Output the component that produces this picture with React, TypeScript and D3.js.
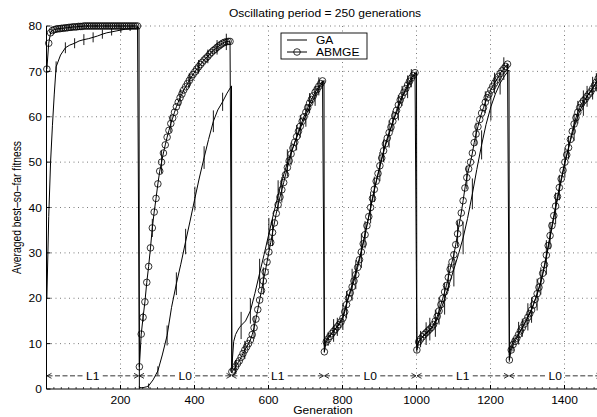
import React from 'react';
import * as d3 from 'd3';

const W = 597;
const H = 417;
const PERIOD = 250;
const TITLE = 'Oscillating period = 250 generations';
const X_LABEL = 'Generation';
const Y_LABEL = 'Averaged best\u2013so\u2013far fitness';
const SERIES = ['GA', 'ABMGE'];
const X_TICKS = [200, 400, 600, 800, 1000, 1200, 1400];
const Y_TICKS = [0, 10, 20, 30, 40, 50, 60, 70, 80];
const LANDSCAPES = ['L1', 'L0', 'L1', 'L0', 'L1', 'L0'];

// generation offsets within a period
const GA_T = [1, 6, 11, 16, 21, 26, 38, 51, 63, 76, 88, 101, 113, 126, 138, 151, 163, 176, 188, 201, 213, 226, 238, 250];
const ABMGE_T = [1, 6, 11, 16, 21, 26, 31, 36, 41, 46, 51, 56, 61, 66, 71, 76, 81, 86, 91, 96, 101, 106, 111, 116, 121, 126, 131, 136, 141, 146, 151, 156, 161, 166, 171, 176, 181, 186, 191, 196, 201, 206, 211, 216, 221, 226, 231, 236, 241, 246];
const GA_ERR_T = [1, 26, 51, 76, 101, 126, 151, 176, 201, 226];
const ABMGE_ERR_T = [11, 36, 61, 86, 111, 136, 161, 186, 211, 236];

const GA_P1 = [20, 38, 50, 58, 65, 71, 73.6, 75.2, 75.8, 76.2, 76.7, 77.0, 77.2, 77.5, 77.8, 78.2, 78.5, 78.7, 78.9, 79.1, 79.3, 79.4, 79.5, 79.6];
const GA_P2 = [0.3, 0.3, 0.3, 0.4, 0.5, 0.7, 2.0, 4.0, 7.5, 11.8, 18.0, 23.2, 27.5, 32.5, 37.0, 42.0, 46.5, 51.0, 55.0, 59.0, 61.5, 63.3, 65.2, 66.8];
const GA_P3 = [5.0, 10.5, 12.0, 12.8, 13.5, 14.0, 15.0, 17.2, 21.0, 25.5, 29.6, 34.2, 38.4, 42.7, 46.4, 49.8, 52.6, 55.4, 57.8, 60.3, 62.5, 64.6, 66.5, 68.0];
const GA_P4 = [9.5, 10.8, 11.4, 11.9, 12.4, 12.9, 14.0, 16.0, 19.5, 23.0, 26.5, 30.5, 35.0, 40.0, 44.5, 49.0, 52.8, 56.2, 59.2, 62.0, 64.6, 66.6, 68.3, 69.8];
const GA_P5 = [9.5, 10.6, 11.0, 11.4, 11.8, 12.2, 13.0, 14.5, 16.8, 19.9, 23.0, 26.4, 29.6, 33.3, 37.6, 43.0, 48.4, 53.8, 58.3, 62.2, 65.0, 67.4, 69.0, 70.3];
const GA_P6 = [7.5, 9.5, 10.4, 11.0, 11.6, 12.3, 13.8, 15.9, 18.0, 20.8, 24.0, 29.0, 34.2, 39.8, 44.6, 49.8, 53.8, 57.7, 60.6, 63.0, 64.8, 66.3, 67.8, 69.3];

const ABMGE_P1 = [70.5, 76.2, 78.5, 79.0, 79.2, 79.3, 79.4, 79.4, 79.5, 79.5, 79.6, 79.6, 79.7, 79.7, 79.8, 79.8, 79.8, 79.9, 79.9, 79.9, 80, 80, 80, 80, 80, 80, 80, 80, 80, 80, 80, 80, 80, 80, 80, 80, 80, 80, 80, 80, 80, 80, 80, 80, 80, 80, 80, 80, 80, 80];
const ABMGE_P2 = [4.9, 12.1, 15.8, 19.2, 23.5, 27.0, 31.1, 35.5, 39.0, 42.0, 45.2, 48.0, 50.0, 52.0, 53.8, 55.5, 57.0, 58.5, 59.7, 61.0, 62.2, 63.2, 64.2, 65.0, 65.9, 66.6, 67.3, 68.0, 68.7, 69.3, 69.9, 70.5, 71.0, 71.5, 72.0, 72.5, 72.9, 73.3, 73.8, 74.2, 74.6, 74.9, 75.3, 75.6, 75.9, 76.2, 76.4, 76.5, 76.6, 76.6];
const ABMGE_P3 = [3.8, 4.2, 4.9, 5.6, 6.2, 7.0, 7.8, 8.6, 9.3, 10.0, 10.8, 12.0, 13.5, 15.4, 17.5, 19.6, 21.7, 23.8, 25.8, 28.0, 30.2, 32.3, 34.5, 36.6, 38.7, 40.6, 42.3, 43.9, 45.5, 47.2, 48.8, 50.3, 51.8, 53.1, 54.4, 55.6, 56.8, 57.9, 59.0, 60.0, 61.0, 62.0, 63.0, 63.8, 64.6, 65.4, 66.0, 66.7, 67.3, 67.9];
const ABMGE_P4 = [8.2, 10.4, 11.0, 11.6, 12.2, 12.7, 13.2, 13.7, 14.2, 14.8, 15.6, 17.0, 18.6, 20.0, 21.2, 22.5, 23.8, 25.2, 26.8, 28.5, 30.2, 32.0, 34.0, 36.0, 38.0, 40.0, 42.0, 44.0, 45.8, 47.5, 49.2, 50.9, 52.5, 54.0, 55.3, 56.5, 57.7, 59.0, 60.2, 61.4, 62.6, 63.7, 64.6, 65.4, 66.2, 67.0, 67.8, 68.5, 69.1, 69.7];
const ABMGE_P5 = [8.6, 10.4, 11.0, 11.5, 12.0, 12.4, 12.8, 13.2, 13.6, 14.2, 15.0, 16.0, 17.2, 18.6, 20.0, 21.4, 22.8, 24.6, 26.4, 28.0, 29.6, 31.8, 34.2, 36.6, 38.8, 41.5, 44.3, 46.6, 48.5, 50.0, 52.0, 54.3, 56.2, 57.8, 59.4, 60.8, 62.0, 63.2, 64.2, 65.0, 65.9, 66.7, 67.4, 68.1, 68.8, 69.5, 70.1, 70.6, 71.1, 71.6];
const ABMGE_P6 = [6.4, 8.6, 9.8, 10.5, 11.2, 12.0, 12.8, 13.5, 14.3, 15.0, 15.8, 16.6, 17.4, 18.5, 19.8, 21.0, 22.4, 23.8, 25.5, 27.4, 29.5, 31.6, 33.8, 36.0, 38.2, 40.3, 42.4, 44.4, 46.3, 48.2, 50.0, 51.6, 53.2, 55.0, 56.8, 58.4, 59.8, 61.0, 62.0, 62.9, 63.5, 63.9, 64.5, 65.0, 65.5, 66.2, 66.9, 67.6, 68.4, 69.2];

const GA_ERR_P1 = [0, 1.2, 1.2, 1.1, 1.2, 1.1, 1.0, 0.8, 0.6, 0.5];
const GA_ERR_P2 = [0.3, 0.5, 1.0, 2.2, 2.5, 2.8, 2.6, 2.5, 2.4, 2.0];
const GA_ERR_P3 = [1.5, 3.0, 2.8, 3.2, 3.5, 3.3, 3.0, 2.8, 2.5, 2.2];
const GA_ERR_P4 = [1.5, 2.5, 3.0, 3.5, 3.8, 3.5, 3.2, 3.0, 2.8, 2.5];
const GA_ERR_P5 = [1.5, 2.5, 3.0, 3.5, 3.8, 3.6, 3.4, 3.2, 3.0, 2.5];
const GA_ERR_P6 = [1.5, 2.5, 3.0, 3.5, 3.8, 3.5, 3.2, 3.0, 2.8, 2.5];

const ABMGE_ERR_P1 = [0.3, 0.2, 0.2, 0.2, 0.2, 0.1, 0.1, 0.1, 0.1, 0.1];
const ABMGE_ERR_P2 = [1.0, 2.0, 2.5, 2.0, 1.8, 1.6, 1.5, 1.5, 1.6, 1.8];
const ABMGE_ERR_P3 = [1.5, 2.0, 2.5, 3.0, 3.0, 2.8, 2.5, 2.5, 2.2, 2.0];
const ABMGE_ERR_P4 = [1.5, 2.0, 3.0, 3.2, 3.0, 2.8, 2.5, 2.3, 2.2, 2.0];
const ABMGE_ERR_P5 = [1.8, 2.5, 3.0, 3.0, 2.8, 2.6, 2.5, 2.4, 2.3, 2.5];
const ABMGE_ERR_P6 = [1.5, 2.0, 2.8, 3.0, 3.0, 2.8, 2.6, 2.5, 2.3, 2.0];

const GA_PERIODS = [GA_P1, GA_P2, GA_P3, GA_P4, GA_P5, GA_P6];
const ABMGE_PERIODS = [ABMGE_P1, ABMGE_P2, ABMGE_P3, ABMGE_P4, ABMGE_P5, ABMGE_P6];
const GA_ERRS = [GA_ERR_P1, GA_ERR_P2, GA_ERR_P3, GA_ERR_P4, GA_ERR_P5, GA_ERR_P6];
const ABMGE_ERRS = [ABMGE_ERR_P1, ABMGE_ERR_P2, ABMGE_ERR_P3, ABMGE_ERR_P4, ABMGE_ERR_P5, ABMGE_ERR_P6];

type Pt = { g: number; v: number };

function buildSeries(periods: number[][], ts: number[]): Pt[] {
  const out: Pt[] = [];
  periods.forEach((vals, k) => {
    vals.forEach((v, i) => out.push({ g: k * PERIOD + ts[i], v }));
  });
  return out;
}

function buildErrors(periods: number[][], errs: number[][], ts: number[], errTs: number[]) {
  const out: { g: number; v: number; e: number }[] = [];
  periods.forEach((vals, k) => {
    errTs.forEach((t, j) => {
      const idx = ts.indexOf(t);
      if (idx >= 0) out.push({ g: k * PERIOD + t, v: vals[idx], e: errs[k][j] });
    });
  });
  return out;
}

const SX = 1.17;
const FONT = '"Liberation Sans", Arial, Helvetica, sans-serif';

function STxt(props: { x: number; y: number; anchor?: string; size?: number; baseline?: string; children: any }) {
  const { x, y, anchor = 'middle', size = 10.3, baseline, children } = props;
  return (
    <text
      transform={`translate(${x},${y}) scale(${SX},1)`}
      textAnchor={anchor}
      fontSize={size}
      dominantBaseline={baseline as any}
      fill="#000"
    >
      {children}
    </text>
  );
}

export default function App() {
  const x = d3.scaleLinear().domain([0, 1500]).range([46.5, 601.5]);
  const y = d3.scaleLinear().domain([0, 80]).range([389, 26]);
  const left = x(0);
  const bottom = y(0);
  const top = y(80);

  const ga = buildSeries(GA_PERIODS, GA_T);
  const ab = buildSeries(ABMGE_PERIODS, ABMGE_T);
  const gaErr = buildErrors(GA_PERIODS, GA_ERRS, GA_T, GA_ERR_T);
  const abErr = buildErrors(ABMGE_PERIODS, ABMGE_ERRS, ABMGE_T, ABMGE_ERR_T);

  const line = d3.line<Pt>().x((d) => x(d.g)).y((d) => y(d.v));

  const minorTicks = d3.range(20, 1500, 20).filter((g) => g % 200 !== 0);
  const annY = y(2.9);

  return (
    <svg width={W} height={H} style={{ position: 'absolute', left: 0, top: 0, background: '#fff' }} fontFamily={FONT}>
      <rect x={0} y={0} width={W} height={H} fill="#fff" />
      {/* grid */}
      <g stroke="#444" strokeWidth={0.7} strokeDasharray="1,3.5">
        {Y_TICKS.filter((t) => t > 0).map((t) => (
          <line key={'gy' + t} x1={left} x2={W} y1={y(t)} y2={y(t)} />
        ))}
        {X_TICKS.map((t) => (
          <line key={'gx' + t} x1={x(t)} x2={x(t)} y1={top} y2={bottom} />
        ))}
      </g>

      {/* series lines */}
      <path d={line(ga) || ''} fill="none" stroke="#000" strokeWidth={1} />
      <path d={line(ab) || ''} fill="none" stroke="#000" strokeWidth={1} />

      {/* error bars */}
      <g stroke="#000" strokeWidth={0.9}>
        {gaErr.map((d, i) => (
          <line key={'ge' + i} x1={x(d.g)} x2={x(d.g)} y1={y(d.v - d.e)} y2={y(d.v + d.e)} />
        ))}
        {abErr.map((d, i) => (
          <line key={'ae' + i} x1={x(d.g)} x2={x(d.g)} y1={y(d.v - d.e)} y2={y(d.v + d.e)} />
        ))}
      </g>

      {/* markers */}
      <g fill="none" stroke="#000" strokeWidth={0.8}>
        {ab.map((d, i) => (
          <circle key={'m' + i} cx={x(d.g)} cy={y(d.v)} r={3.3} />
        ))}
      </g>

      {/* axes */}
      <g stroke="#000" strokeWidth={1}>
        <line x1={left} x2={left} y1={top} y2={bottom} />
        <line x1={left} x2={W} y1={bottom} y2={bottom} />
        {Y_TICKS.map((t) => (
          <line key={'ty' + t} x1={left} x2={left + 4} y1={y(t)} y2={y(t)} />
        ))}
        {X_TICKS.map((t) => (
          <line key={'tx' + t} x1={x(t)} x2={x(t)} y1={bottom} y2={bottom - 4} />
        ))}
        {minorTicks.map((t) => (
          <line key={'mt' + t} x1={x(t)} x2={x(t)} y1={bottom} y2={bottom - 2} strokeWidth={0.7} />
        ))}
      </g>

      {/* tick labels */}
      {Y_TICKS.map((t) => (
        <STxt key={'ly' + t} x={42} y={y(t) + 0.5} anchor="end" baseline="central">
          {String(t)}
        </STxt>
      ))}
      {X_TICKS.map((t) => (
        <STxt key={'lx' + t} x={x(t)} y={404}>
          {String(t)}
        </STxt>
      ))}

      {/* landscape annotations */}
      {LANDSCAPES.map((lab, k) => {
        const x0 = x(k * PERIOD);
        const x1 = x((k + 1) * PERIOD);
        const xc = (x0 + x1) / 2;
        return (
          <g key={'ann' + k}>
            <g stroke="#000" strokeWidth={0.8} fill="none">
              <line x1={x0 + 1} x2={xc - 10} y1={annY} y2={annY} strokeDasharray="5,2.5" />
              <line x1={xc + 10} x2={x1 - 1} y1={annY} y2={annY} strokeDasharray="5,2.5" />
              <path d={`M${x0 + 5},${annY - 2.5}L${x0 + 0.5},${annY}L${x0 + 5},${annY + 2.5}`} />
              <path d={`M${x1 - 5},${annY - 2.5}L${x1 - 0.5},${annY}L${x1 - 5},${annY + 2.5}`} />
            </g>
            <STxt x={xc} y={annY} baseline="central">
              {lab}
            </STxt>
          </g>
        );
      })}

      {/* legend */}
      <g>
        <rect x={281} y={33} width={86} height={26} fill="#fff" stroke="#000" strokeWidth={0.9} />
        <line x1={287} x2={307} y1={40} y2={40} stroke="#000" strokeWidth={1} />
        <line x1={287} x2={307} y1={52} y2={52} stroke="#000" strokeWidth={1} />
        <circle cx={297} cy={52} r={3.3} fill="none" stroke="#000" strokeWidth={0.8} />
        <STxt x={316} y={40} anchor="start" baseline="central">
          {SERIES[0]}
        </STxt>
        <STxt x={316} y={52.5} anchor="start" baseline="central">
          {SERIES[1]}
        </STxt>
      </g>

      {/* title & labels */}
      <STxt x={325} y={17}>
        {TITLE}
      </STxt>
      <STxt x={323} y={414}>
        {X_LABEL}
      </STxt>
      <text
        transform={`translate(21,${(top + bottom) / 2}) rotate(-90) scale(1,${SX})`}
        textAnchor="middle"
        fontSize={10.3}
        fill="#000"
      >
        {Y_LABEL}
      </text>
    </svg>
  );
}
